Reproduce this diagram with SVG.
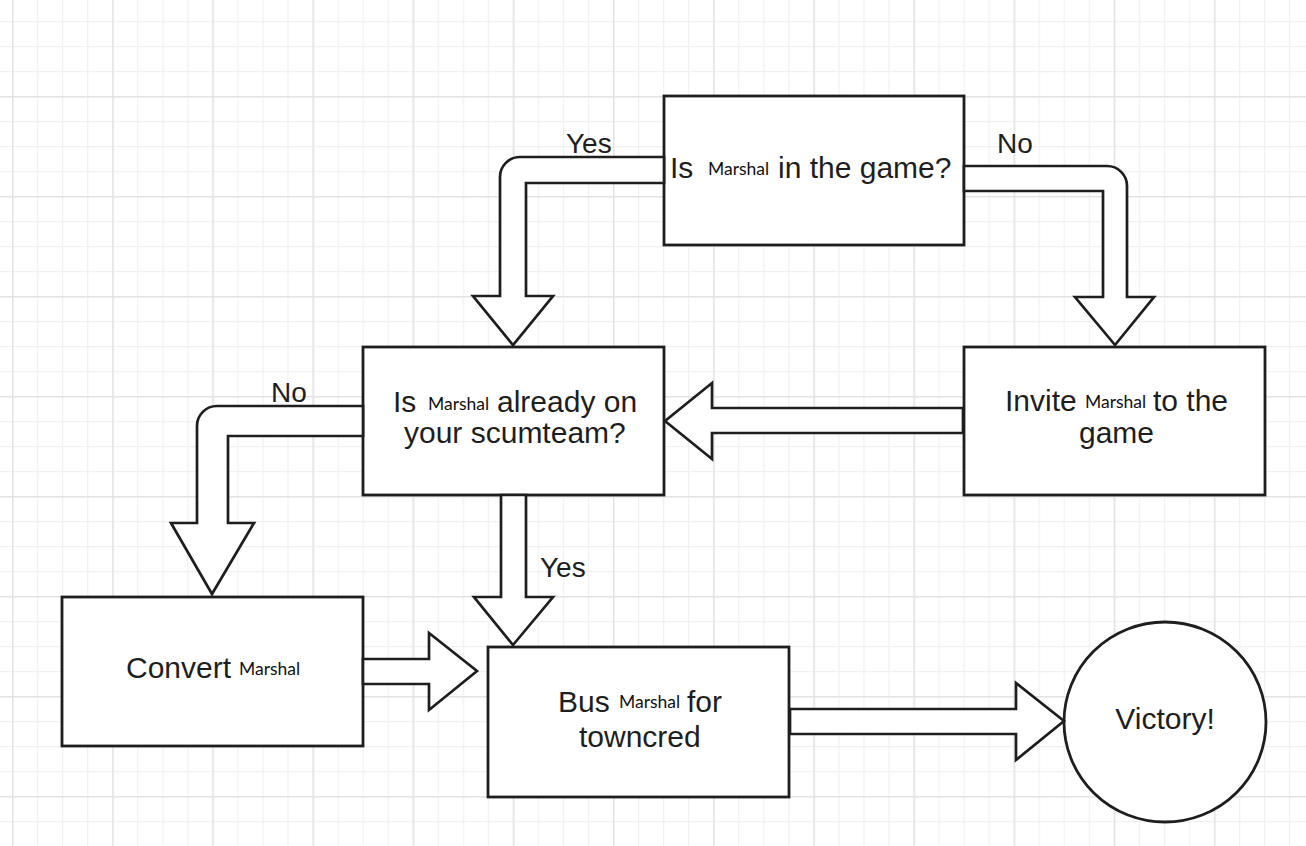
<svg xmlns="http://www.w3.org/2000/svg" width="1306" height="846" viewBox="0 0 1306 846">
  <defs>
    <pattern id="minor" x="12" y="21" width="25.04" height="25" patternUnits="userSpaceOnUse">
      <path d="M0.5 0 V25 M0 0.5 H25.04" fill="none" stroke="#f1f1f1" stroke-width="1.5"/>
    </pattern>
    <pattern id="major" x="12" y="96" width="100.16" height="100" patternUnits="userSpaceOnUse">
      <path d="M0.5 0 V100 M0 0.5 H100.16" fill="none" stroke="#e3e3e3" stroke-width="2"/>
    </pattern>
  </defs>
  <style>
    .box { fill: #ffffff; stroke: #1e1e1e; stroke-width: 2.8; }
    .arrow { fill: #ffffff; stroke: #1e1e1e; stroke-width: 2.7; stroke-linejoin: miter; }
    .t { font-family: "Liberation Sans", Arial, sans-serif; font-size: 30px; fill: #1e1e1e; }
    .m { font-family: Lato, "Open Sans", sans-serif; font-size: 17.5px; fill: #111111; }
    .lbl { font-family: "Liberation Sans", Arial, sans-serif; font-size: 28px; fill: #1e1e1e; }
  </style>
  <rect width="1306" height="846" fill="#ffffff"/>
  <rect width="1306" height="846" fill="url(#minor)"/>
  <rect width="1306" height="846" fill="url(#major)"/>

  <g id="node-in-game">
    <rect class="box" x="664" y="96" width="300" height="149"/>
    <text class="t" x="670" y="178">Is</text>
    <text class="m" x="708" y="175">Marshal</text>
    <text class="t" x="778" y="178">in the game?</text>
  </g>
  <g id="node-on-scumteam">
    <rect class="box" x="363" y="347" width="301" height="148"/>
    <text class="t" x="393" y="412">Is</text>
    <text class="m" x="428" y="410">Marshal</text>
    <text class="t" x="497" y="412">already on</text>
    <text class="t" x="404" y="443">your scumteam?</text>
  </g>
  <g id="node-invite">
    <rect class="box" x="964" y="347" width="301" height="148"/>
    <text class="t" x="1005" y="411">Invite</text>
    <text class="m" x="1085" y="408">Marshal</text>
    <text class="t" x="1153" y="411">to the</text>
    <text class="t" x="1079" y="443">game</text>
  </g>
  <g id="node-convert">
    <rect class="box" x="62" y="597" width="301" height="149"/>
    <text class="t" x="126" y="678">Convert</text>
    <text class="m" x="239" y="675">Marshal</text>
  </g>
  <g id="node-bus">
    <rect class="box" x="488" y="647" width="301" height="150"/>
    <text class="t" x="558" y="712">Bus</text>
    <text class="m" x="619" y="708">Marshal</text>
    <text class="t" x="687" y="712">for</text>
    <text class="t" x="579" y="747">towncred</text>
  </g>
  <g id="node-victory">
    <ellipse class="box" cx="1165" cy="722" rx="101" ry="100"/>
    <text class="t" x="1165" y="729" text-anchor="middle">Victory!</text>
  </g>

  <g id="connectors">
    <path class="arrow" d="M664 157 H520 A20 20 0 0 0 500 177 V296 H473 L513 345 L553 296 H526 V183 H664 Z"/>
    <path class="arrow" d="M964 166 H1107 A20 20 0 0 1 1127 186 V297 H1154 L1115 345 L1075 297 H1103 V191 H964 Z"/>
    <path class="arrow" d="M363 406 H217 A20 20 0 0 0 197 426 V523 H171 L212 594 L254 523 H228 V436 H363 Z"/>
    <path class="arrow" d="M501 495 V597 H474 L513 645 L553 597 H526 V495 Z"/>
    <path class="arrow" d="M963 408 H712 V383 L665 421 L712 459 V433 H963 Z"/>
    <path class="arrow" d="M363 659 H429 V633 L477 671 L429 710 V684 H363 Z"/>
    <path class="arrow" d="M790 709 H1016 V683 L1064 721 L1016 760 V734 H790 Z"/>
    <text class="lbl" x="566" y="153">Yes</text>
    <text class="lbl" x="997" y="153">No</text>
    <text class="lbl" x="271" y="402">No</text>
    <text class="lbl" x="540" y="577">Yes</text>
  </g>
</svg>
